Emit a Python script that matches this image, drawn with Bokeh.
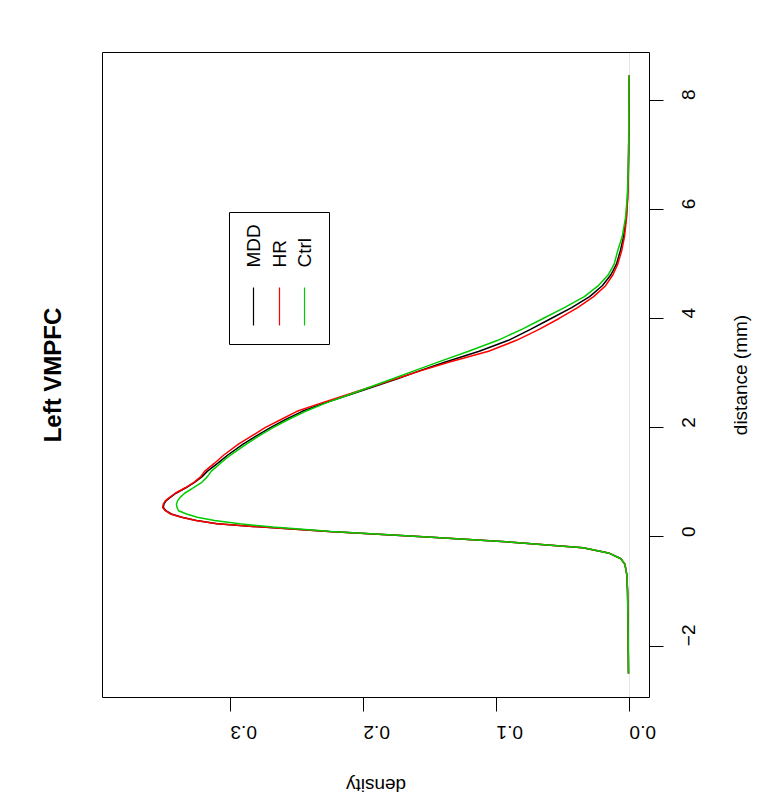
import math
from bokeh.plotting import figure
from bokeh.models import (Range1d, FixedTicker, Label, BoxAnnotation, LinearAxis)
from bokeh.embed import file_html
from bokeh.resources import INLINE

# ---------------- data ----------------
distance = [-2.5, -2.0, -1.5, -1.0, -0.7, -0.5, -0.4, -0.3, -0.2, -0.1,
            0.0, 0.1, 0.18, 0.24, 0.3, 0.36, 0.42, 0.48, 0.54, 0.6,
            0.66, 0.72, 0.8, 0.9, 1.0, 1.1, 1.2, 1.35, 1.5, 1.7,
            1.85, 2.0, 2.15, 2.3, 2.45, 2.6, 2.75, 2.9, 3.05, 3.2,
            3.4, 3.6, 3.8, 4.0, 4.2, 4.4, 4.6, 4.8, 5.0, 5.25,
            5.5, 5.85, 6.2, 6.6, 7.0, 7.5, 8.0, 8.45]

mdd = [0.0008, 0.0010, 0.0012, 0.0015, 0.0020, 0.0035, 0.0065, 0.0150, 0.0350, 0.0860,
       0.1520, 0.2260, 0.2760, 0.3100, 0.3255, 0.3365, 0.3445, 0.3485, 0.3505, 0.3500,
       0.3485, 0.3455, 0.3410, 0.3335, 0.3270, 0.3215, 0.3175, 0.3095, 0.3020, 0.2905,
       0.2805, 0.2700, 0.2585, 0.2460, 0.2295, 0.2110, 0.1925, 0.1740, 0.1570, 0.1390,
       0.1130, 0.0910, 0.0745, 0.0590, 0.0435, 0.0300, 0.0205, 0.0140, 0.0098, 0.0068,
       0.0045, 0.0025, 0.0015, 0.0010, 0.0007, 0.0005, 0.0004, 0.0003]

hr = [0.0008, 0.0010, 0.0012, 0.0015, 0.0020, 0.0035, 0.0065, 0.0150, 0.0350, 0.0860,
      0.1520, 0.2260, 0.2760, 0.3100, 0.3260, 0.3370, 0.3450, 0.3490, 0.3510, 0.3505,
      0.3490, 0.3460, 0.3415, 0.3340, 0.3275, 0.3225, 0.3195, 0.3120, 0.3050, 0.2940,
      0.2840, 0.2740, 0.2620, 0.2500, 0.2320, 0.2130, 0.1940, 0.1750, 0.1560, 0.1360,
      0.1060, 0.0850, 0.0680, 0.0530, 0.0390, 0.0270, 0.0180, 0.0125, 0.0088, 0.0058,
      0.0038, 0.0022, 0.0014, 0.0009, 0.0007, 0.0005, 0.0004, 0.0003]

ctrl = [0.0008, 0.0010, 0.0012, 0.0015, 0.0020, 0.0035, 0.0065, 0.0150, 0.0350, 0.0860,
        0.1520, 0.2240, 0.2680, 0.2930, 0.3120, 0.3250, 0.3330, 0.3390, 0.3402, 0.3406,
        0.3398, 0.3380, 0.3345, 0.3280, 0.3215, 0.3175, 0.3145, 0.3075, 0.3000, 0.2880,
        0.2785, 0.2680, 0.2565, 0.2435, 0.2285, 0.2115, 0.1945, 0.1775, 0.1610, 0.1440,
        0.1210, 0.0990, 0.0810, 0.0650, 0.0490, 0.0340, 0.0235, 0.0160, 0.0115, 0.0088,
        0.0055, 0.0030, 0.0018, 0.0011, 0.0008, 0.0006, 0.0005, 0.0004]

groups = ["MDD", "HR", "Ctrl"]
colors = ["#000000", "#FF0000", "#00CD00"]
series = [mdd, hr, ctrl]

dens_ticks = [0.0, 0.1, 0.2, 0.3]
dens_labels = ["0.0", "0.1", "0.2", "0.3"]
dist_ticks = [-2, 0, 2, 4, 6, 8]
dist_labels = ["\u22122", "0", "2", "4", "6", "8"]

title = "Left VMPFC"
xlab = "distance (mm)"
ylab = "density"

# ---------------- layout ----------------
W, H = 777, 800
BL, BT, BR, BB = 102, 52, 649, 697          # plot box edges in canvas pixels
D_L, D_R = 0.3962, -0.0150                  # density at box left / right
T_B, T_T = -2.94, 8.87                      # distance at box bottom / top


def dens_at(px):
    return D_L + (px - BL) * (D_R - D_L) / (BR - BL)


def dist_at(py):
    return T_T - (py - BT) * (T_T - T_B) / (BB - BT)


FONT = "Liberation Sans"

p = figure(width=W, height=H, output_backend="svg", toolbar_location=None,
           x_range=Range1d(dens_at(0), dens_at(W)),
           y_range=Range1d(dist_at(H), dist_at(0)),
           x_axis_location=None, y_axis_location=None, min_border=0)
p.background_fill_color = "white"
p.border_fill_color = "white"
p.outline_line_color = None
p.grid.visible = False

# plot box
p.add_layout(BoxAnnotation(left=D_R, right=D_L, bottom=T_B, top=T_T,
                           fill_color=None, line_color="black", line_alpha=1.0,
                           line_width=1))

# axes (R style: line only between first and last tick, ticks outward)
xa = LinearAxis(fixed_location=T_B, ticker=FixedTicker(ticks=dens_ticks),
                bounds=(min(dens_ticks), max(dens_ticks)))
xa.major_label_overrides = {t: l for t, l in zip(dens_ticks, dens_labels)}
xa.major_label_orientation = math.pi
ya = LinearAxis(fixed_location=D_R, ticker=FixedTicker(ticks=dist_ticks),
                bounds=(min(dist_ticks), max(dist_ticks)))
ya.major_label_overrides = {t: l for t, l in zip(dist_ticks, dist_labels)}
ya.major_label_orientation = math.pi / 2
for ax in (xa, ya):
    ax.axis_line_color = "black"
    ax.axis_line_width = 1
    ax.major_tick_line_color = "black"
    ax.major_tick_line_width = 1
    ax.major_tick_in = 0
    ax.major_tick_out = 14
    ax.minor_tick_line_color = None
    ax.major_label_text_font = FONT
    ax.major_label_text_font_size = "19px"
    ax.major_label_text_color = "black"
xa.major_label_standoff = 21
ya.major_label_standoff = 25
p.add_layout(xa, "below")
p.add_layout(ya, "right")

# zero line inside the box
p.segment(x0=[0], y0=[T_B], x1=[0], y1=[T_T], line_color="#e4e4e4", line_width=1)

# curves
for g, c, s in zip(groups, colors, series):
    p.line(s, distance, line_color=c, line_width=1.5)

# legend (drawn by hand, rotated like the reference)
p.add_layout(BoxAnnotation(left=dens_at(329), right=dens_at(229),
                           bottom=dist_at(344), top=dist_at(212),
                           fill_color=None, line_color="black", line_alpha=1.0,
                           line_width=1))
leg_x = [253, 279, 304]
for g, c, lx in zip(groups, colors, leg_x):
    p.segment(x0=[dens_at(lx)], y0=[dist_at(325)], x1=[dens_at(lx)], y1=[dist_at(287)],
              line_color=c, line_width=1.2)
    p.add_layout(Label(x=dens_at(lx), y=dist_at(267), text=g, angle=math.pi / 2,
                       text_align="left", text_baseline="middle",
                       text_font=FONT, text_font_size="19px", text_color="black"))

# titles / axis labels
p.add_layout(Label(x=dens_at(52), y=dist_at(374.5), text=title, angle=math.pi / 2,
                   text_align="center", text_baseline="middle",
                   text_font=FONT, text_font_size="24px", text_font_style="bold",
                   text_color="black"))
p.add_layout(Label(x=dens_at(375.5), y=dist_at(785), text=ylab, angle=math.pi,
                   text_align="center", text_baseline="middle",
                   text_font=FONT, text_font_size="19px", text_color="black"))
p.add_layout(Label(x=dens_at(740), y=dist_at(374.5), text=xlab, angle=math.pi / 2,
                   text_align="center", text_baseline="middle",
                   text_font=FONT, text_font_size="19px", text_color="black"))

open("out.html", "w").write(file_html(p, INLINE))
